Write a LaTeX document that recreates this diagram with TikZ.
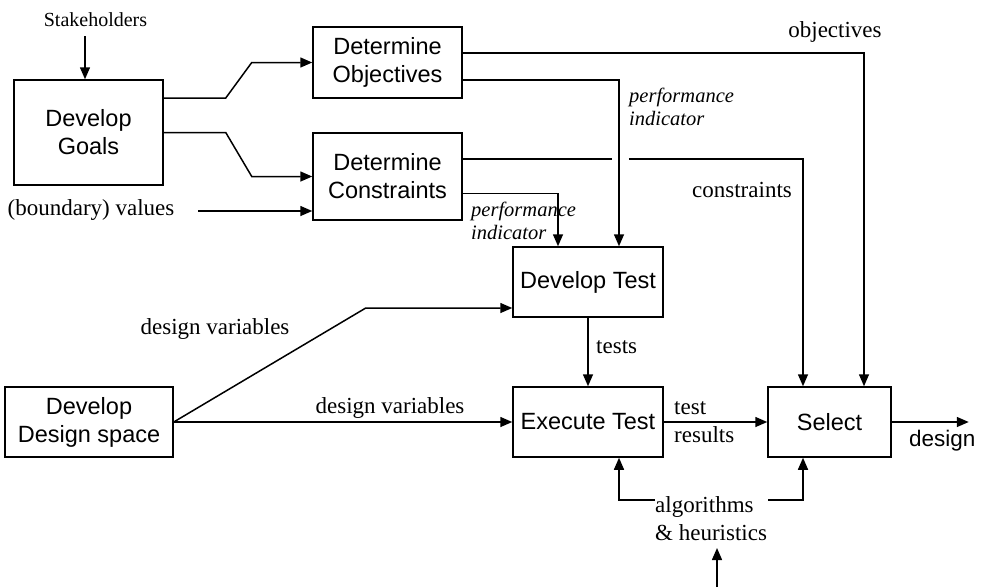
\documentclass[tikz,border=0pt]{standalone}
\usepackage{fontspec}
\setmainfont{Liberation Serif}
\setsansfont{Liberation Sans}
\usetikzlibrary{arrows.meta,calc}
\begin{document}
\begin{tikzpicture}[x=1pt,y=-1pt,
  box/.style={draw,line width=1.5pt,align=center,inner sep=0pt,font=\sffamily\fontsize{23.5}{28}\selectfont},
  lbl/.style={inner sep=0pt,font=\fontsize{23}{28}\selectfont},
  ilbl/.style={inner sep=0pt,align=left,font=\itshape\fontsize{20.5}{23.5}\selectfont},
  conn/.style={line width=1.5pt},
  arr/.style={line width=1.5pt,-{Triangle[length=12pt,width=10pt]}}]
\useasboundingbox (0,0) rectangle (981,587);
% boxes
\node[box,minimum width=149pt,minimum height=105pt] (goals) at (88.5,132.5) {Develop\\Goals};
\node[box,minimum width=149pt,minimum height=71pt] (obj) at (387.5,62.5) {Determine\\Objectives};
\node[box,minimum width=149pt,minimum height=87pt] (con) at (387.5,176.5) {Determine\\Constraints};
\node[box,minimum width=150pt,minimum height=70pt] (dtest) at (588,282) {Develop Test};
\node[box,minimum width=150pt,minimum height=70pt] (etest) at (588,422) {Execute Test};
\node[box,minimum width=123pt,minimum height=70pt] (sel) at (829.5,422) {Select};
\node[box,minimum width=168pt,minimum height=70pt] (dspace) at (89,422) {Develop\\Design space};
% labels
\node[lbl,font=\fontsize{20}{24}\selectfont] (stake) at (95.5,20) {Stakeholders};
\node[lbl] (bval) at (91,210) {(boundary) values};
\node[lbl] (objl) at (835,32) {objectives};
\node[ilbl,anchor=west] (pi1) at (629,107) {performance\\indicator};
\node[ilbl,anchor=west] (pi2) at (471,221) {performance\\indicator};
\node[lbl] (conl) at (742,190) {constraints};
\node[lbl] (dv1) at (215,329) {design variables};
\node[lbl] (dv2) at (390,408) {design variables};
\node[lbl,anchor=west] (testsl) at (596,347) {tests};
\node[lbl,anchor=west,align=left] (trl) at (674,422) {test\\results};
\node[lbl,anchor=west,font=\sffamily\fontsize{22.5}{27}\selectfont] (des) at (909,441) {design};
\node[lbl,anchor=west,align=left] (alg) at (655,519) {algorithms\\\& heuristics};
% free ends
\coordinate (sk) at (85,36);
\coordinate (bvs) at (198,211);
\coordinate (alga) at (655,500);
\coordinate (algb) at (768,500);
\coordinate (ahs) at (717,587);
\coordinate (ahe) at (717,548);
% connectors
\draw[arr] (sk) -- (sk |- goals.north);
\draw[arr] ([yshift=34.5pt]goals.east) -- ++(62,0) -- ++(26,-35.5) -- (obj.west);
\draw[arr] (goals.east) -- ++(62,0) -- ++(26,44) -- (con.west);
\draw[arr] (bvs) -- ([yshift=-34.5pt]con.west);
\draw[arr] ([yshift=9.5pt]obj.east) -| ([xshift=34.5pt]sel.north);
\draw[arr] ([yshift=-17.5pt]obj.east) -| ([xshift=31pt]dtest.north);
\draw[conn] ([yshift=17.5pt]con.east) -- ++(149,0);
\draw[arr] ([yshift=17.5pt,xshift=166pt]con.east) -| ([xshift=-26.5pt]sel.north);
\draw[arr] ([yshift=-17pt]con.east) -| ([xshift=-30pt]dtest.north);
\draw[arr] (dspace.east) -- ++(192,-114) -- ([yshift=-26pt]dtest.west);
\draw[arr] (dspace.east) -- (etest.west);
\draw[arr] (dtest.south) -- (etest.north);
\draw[arr] (etest.east) -- (sel.west);
\draw[arr] (sel.east) -- ++(77,0);
\draw[arr] (alga) -| ([xshift=31pt]etest.south);
\draw[arr] (algb) -| ([xshift=-26.5pt]sel.south);
\draw[arr] (ahs) -- (ahe);
\end{tikzpicture}
\end{document}
